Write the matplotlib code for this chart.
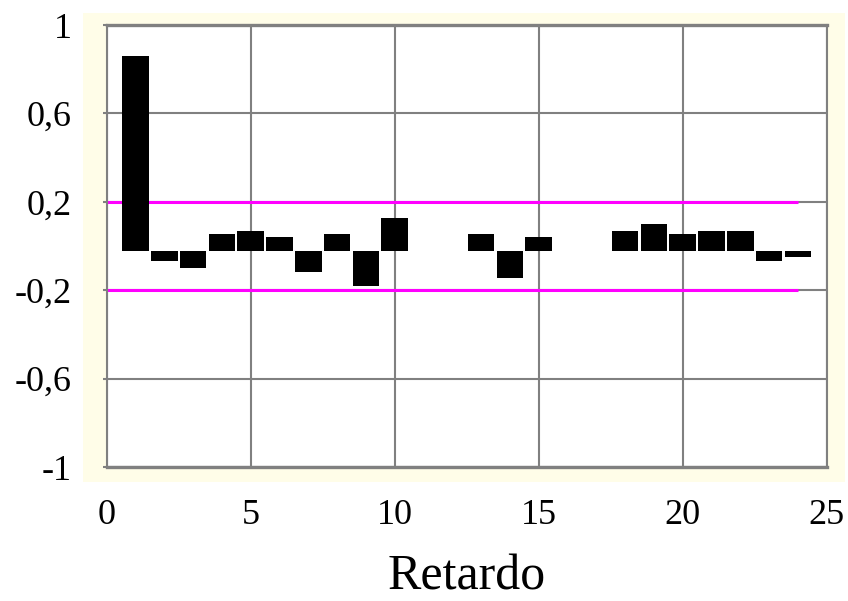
import numpy as np
import matplotlib.pyplot as plt
from matplotlib.patches import Rectangle

# autocorrelation values by lag
lags = np.arange(1, 25)
acf = [0.858, -0.070, -0.101, 0.055, 0.070, 0.039, -0.116, 0.055, -0.181, 0.128,
       -0.02, -0.02, 0.055, -0.143, 0.039, -0.02, -0.02, 0.070, 0.100, 0.055,
       0.070, 0.070, -0.070, -0.050]
band = 0.2
band_end = 24
xticks = [0, 5, 10, 15, 20, 25]
yticks = [-1, -0.6, -0.2, 0.2, 0.6, 1]
ytick_labels = ["-1", "-0,6", "-0,2", "0,2", "0,6", "1"]

plt.rcParams["font.family"] = ["Liberation Serif", "DejaVu Serif"]

W, H = 848, 601
fig = plt.figure(figsize=(W / 100, H / 100), dpi=100)

# faint yellow frame round the plot area
fig.patches.append(Rectangle((83 / W, 1 - 482 / H), (845 - 83) / W, (482 - 13) / H,
                             transform=fig.transFigure, facecolor="#fffde8",
                             edgecolor="none", zorder=0))

ax = fig.add_axes([106.7 / W, 1 - 467 / H, (826.7 - 106.7) / W, (467 - 25) / H])
ax.set_facecolor("white")
ax.set_zorder(1)

# bars start a little below zero, as in the source; values inside the
# gap round zero show no bar at all
base = -0.022
vals = np.array(acf)
shown = np.abs(vals - base) > 0.005
ax.bar(lags[shown], vals[shown] - base, bottom=base, width=0.93, color="black",
       linewidth=0, zorder=3)

ax.hlines([band, -band], 0, band_end, colors="#ff00ff", linewidth=2.2, zorder=2)

ax.set_xlim(0, 25)
ax.set_ylim(-1, 1)
ax.set_xticks(xticks)
ax.set_yticks(yticks)
ax.set_yticklabels(ytick_labels)
ax.grid(True, color="#808080", linewidth=1.5, zorder=1)
ax.set_axisbelow(True)
for side in ["left", "right"]:
    ax.spines[side].set_color("#808080")
    ax.spines[side].set_linewidth(1.5)
for side in ["top", "bottom"]:
    ax.spines[side].set_color("#808080")
    ax.spines[side].set_linewidth(2.4)

ax.tick_params(axis="x", length=0, pad=23, labelsize=26)
ax.tick_params(axis="y", length=3, width=1.5, color="#808080", pad=22, labelsize=26)

fig.text(0.5 * (106.7 + 826.7) / W, 1 - 590 / H, "Retardo", ha="center",
         va="baseline", fontsize=36)

fig.savefig("out.png", dpi=100)
